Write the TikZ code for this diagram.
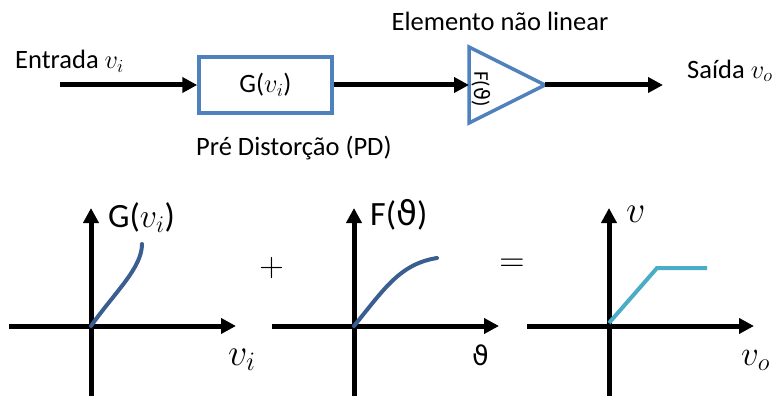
\RequirePackage{fix-cm}
\documentclass[tikz,border=0pt]{standalone}
\usepackage{fontspec}
\setmainfont{Carlito}
\newfontfamily\greekfont{DejaVu Sans}
\usepackage{xcolor}
\usetikzlibrary{positioning,arrows.meta,calc}

\definecolor{boxblue}{RGB}{79,129,189}
\definecolor{curveblue}{RGB}{59,94,145}
\definecolor{lightblue}{RGB}{75,172,198}

\newcommand{\thetasym}{{\greekfont ϑ}}

\tikzset{
  flow/.style={line width=5pt, -{Triangle[length=15pt,width=15pt]}},
  axis/.style={line width=5pt, -{Triangle[length=15pt,width=15pt]}},
  lbl/.style={font=\fontsize{26.5}{30}\selectfont, inner sep=0pt},
  biglbl/.style={font=\fontsize{34}{38}\selectfont, inner sep=0pt},
  varlbl/.style={font=\fontsize{38}{42}\selectfont, inner sep=0pt, anchor=base west},
  blkbox/.style={draw=boxblue, line width=3.5pt, minimum width=133pt, minimum height=56pt, inner sep=0pt}
}

\begin{document}
\begin{tikzpicture}[x=1pt, y=-1pt]
\useasboundingbox (0,0) rectangle (774,396);
% block diagram
\coordinate (in) at (60,85);
\node[blkbox, lbl] (pd) at (265.5,85) {G($v_i$)};
\coordinate (nlin) at (469,85);
\coordinate (nltop) at (469,47);
\coordinate (nlbot) at (469,123);
\coordinate (nlout) at (545,85);
\coordinate (out) at (663,85);
\draw[draw=boxblue, line width=3.5pt] (nltop) -- (nlout) -- (nlbot) -- cycle;
\node[font=\fontsize{21}{24}\selectfont, inner sep=0pt, rotate=-90] (flbl) at (481,89) {F(\thetasym)};
\draw[flow] (in) -- (pd);
\draw[flow] (pd) -- (nlin);
\draw[flow] (nlout) -- (out);
\node[lbl, anchor=base west] (entrada) at (15,69) {Entrada $v_i$};
\node[lbl, anchor=base] (elem) at (500,31) {Elemento não linear};
\node[lbl, anchor=base west] (saida) at (687,78) {Saída $v_o$};
\node[lbl, anchor=base west] (pdlbl) at (196,155) {Pré Distorção (PD)};
% characteristic curves
\foreach \ox/\n in {91/a, 354/b, 609/c} {
  \coordinate (\n o) at (\ox,326);
  \draw[axis] ($(\n o)+(-82,0)$) -- ($(\n o)+(145,0)$);
  \draw[axis] ($(\n o)+(0,80)$) -- ($(\n o)+(0,-118)$);
}
\draw[curveblue, line width=4pt, line cap=round] (ao) .. controls (115,292) and (142,268) .. (142,244);
\draw[curveblue, line width=4pt, line cap=round] (bo) .. controls (385,288) and (400,264) .. (437,258);
\draw[lightblue, line width=4pt] (609,323) -- (657,268) -- (707,268);
\node[biglbl, anchor=base west] (glbl) at (108,227) {G($v_i$)};
\node[biglbl, anchor=base west] (fglbl) at (370,225) {F(\thetasym)};
\node[varlbl] (vlbl) at (626,222) {$v$};
\node[varlbl] (vilbl) at (228,365) {$v_i$};
\node[font=\fontsize{27}{30}\selectfont, inner sep=0pt, anchor=base west] (thlbl) at (472,365) {\thetasym};
\node[font=\fontsize{35}{38}\selectfont, inner sep=0pt, anchor=base west] (volbl) at (741,365) {$v_o$};
\node[font=\fontsize{34}{38}\selectfont, inner sep=0pt] (plus) at (271.5,268) {$+$};
\node[font=\fontsize{35}{38}\selectfont, inner sep=0pt] (eq) at (512,265) {$=$};
\end{tikzpicture}
\end{document}
